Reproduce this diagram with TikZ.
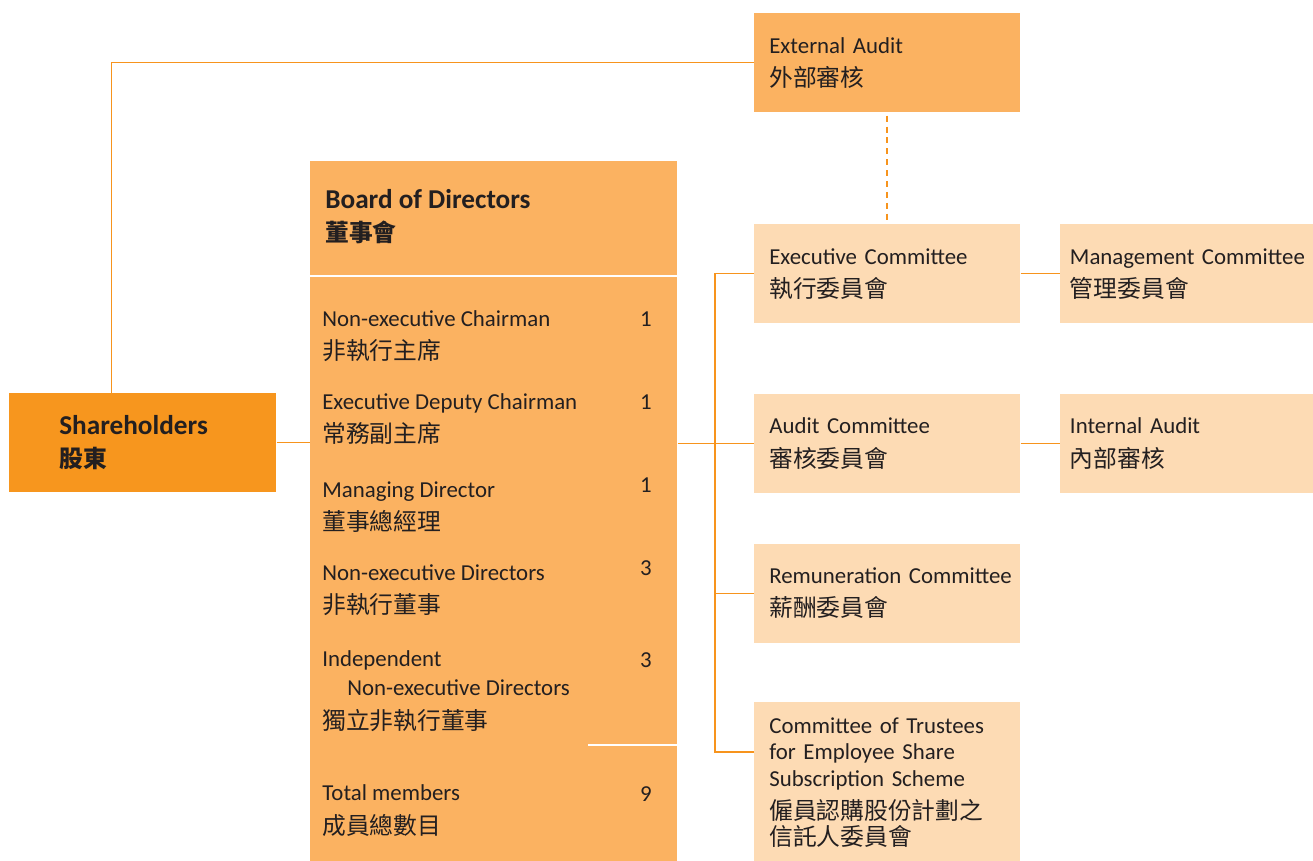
\documentclass[tikz,border=0pt]{standalone}
\usepackage{fontspec}
\setmainfont{Carlito}
\newfontfamily\cjk[Scale=1.04]{Noto Sans CJK TC}
\usetikzlibrary{positioning,calc}
\definecolor{shareorange}{RGB}{247,150,30}
\definecolor{boardorange}{RGB}{251,178,97}
\definecolor{commpeach}{RGB}{253,219,180}
\definecolor{linkorange}{RGB}{247,148,29}
\definecolor{inkdark}{RGB}{35,31,32}
\newcommand{\zh}[1]{{\cjk #1}}
\newcommand{\zhtitle}[1]{{\fontsize{13}{19}\selectfont\cjk #1}}
\hyphenpenalty=10000\relax

\begin{document}
\begin{tikzpicture}[
    x=0.02cm, y=-0.02cm,
    font=\fontsize{13}{19}\selectfont,
    text=inkdark,
    titlefont/.style={font=\bfseries\fontsize{15.5}{19}\selectfont},
    unitbox/.style={rectangle, minimum width=5.32cm, minimum height=1.98cm, text width=4.72cm, align=left, inner xsep=0.3cm, inner ysep=0pt, anchor=north west},
    committee/.style={unitbox, fill=commpeach},
    sidebox/.style={committee, minimum width=5.08cm, text width=4.68cm, inner xsep=0.2cm},
    rowtext/.style={anchor=base west, inner sep=0pt, align=left},
    count/.style={anchor=base, inner sep=0pt},
    link/.style={draw=linkorange, line width=0.7pt}
]
\useasboundingbox (0,0) rectangle (1313,861);

% Shareholders
\node[rectangle, fill=shareorange, minimum width=5.34cm, minimum height=1.98cm, text width=3.34cm, inner xsep=1cm, inner ysep=0pt, align=left, anchor=north west, titlefont] (share) at (9,393) {Shareholders\\\zhtitle{股東}};

% Board of Directors (rows are anchored on their last line)
\node[rectangle, fill=boardorange, minimum width=7.34cm, minimum height=14cm, inner sep=0pt, anchor=north west] (board) at (310,161) {};
\node[rowtext, titlefont] (boardtitle) at (325,242) {Board of Directors\\\zhtitle{董事會}};
\draw[white, line width=0.8pt] ([yshift=-2.3cm]board.north west) -- ([yshift=-2.3cm]board.north east);
\draw[white, line width=0.8pt] ([yshift=-11.68cm]board.north east) -- ++(-90,0);

% Board members
\node[rowtext] (chair) at (322,360) {Non-executive Chairman\\\zh{非執行主席}};
\node[count] (chairn) at (646,327) {1};
\node[rowtext] (deputy) at (322,443) {Executive Deputy Chairman\\\zh{常務副主席}};
\node[count] (deputyn) at (646,410) {1};
\node[rowtext] (md) at (322,531) {Managing Director\\\zh{董事總經理}};
\node[count] (mdn) at (646,493) {1};
\node[rowtext] (ned) at (322,614) {Non-executive Directors\\\zh{非執行董事}};
\node[count] (nedn) at (646,576) {3};
\node[rowtext] (ined) at (322,729) {Independent\\[-2.5pt]\hspace*{0.5cm}Non-executive Directors\\\zh{獨立非執行董事}};
\node[count] (inedn) at (646,667) {3};
\node[rowtext] (total) at (322,834) {Total members\\\zh{成員總數目}};
\node[count] (totaln) at (646,801) {9};

% Audit and committees
\node[committee, fill=boardorange] (extaudit) at (754,13) {External~Audit\\\zh{外部審核}};
\node[committee] (exec) at (754,224) {Executive~Committee\\\zh{執行委員會}};
\node[committee, below=1.4cm of exec] (auditc) {Audit~Committee\\\zh{審核委員會}};
\node[committee, below=1cm of auditc] (remun) {Remuneration~Committee\\\zh{薪酬委員會}};
\node[committee, below=1.18cm of remun, minimum height=3.22cm] (trustees) {Committee~of~Trustees\\[-4pt]for~Employee~Share\\[-4pt]Subscription~Scheme\\\zh{僱員認購股份計劃之}\\[-4pt]\zh{信託人委員會}};
\node[sidebox, right=0.78cm of exec] (mgmt) {Management~Committee\\\zh{管理委員會}};
\node[sidebox, right=0.78cm of auditc] (intaudit) {Internal~Audit\\\zh{內部審核}};

% Lines
\draw[link] ([xshift=-0.63cm]share.north) |- (extaudit.west);
\draw[link] (share.east) -- (share.east -| board.west);
\draw[link] (board.east |- auditc.west) -- (auditc.west);
\draw[link] (exec.west) -- ++(-39,0) coordinate (spine) |- ([yshift=-1cm]trustees.north west);
\draw[link] (remun.west) -- (remun.west -| spine);
\draw[link] (exec.east) -- (mgmt.west);
\draw[link] (auditc.east) -- (intaudit.west);
\draw[link, line width=1pt, dash pattern=on 3.4pt off 2.8pt] ([yshift=-0.06cm]extaudit.south) -- ([yshift=0.04cm]exec.north);

\end{tikzpicture}
\end{document}
